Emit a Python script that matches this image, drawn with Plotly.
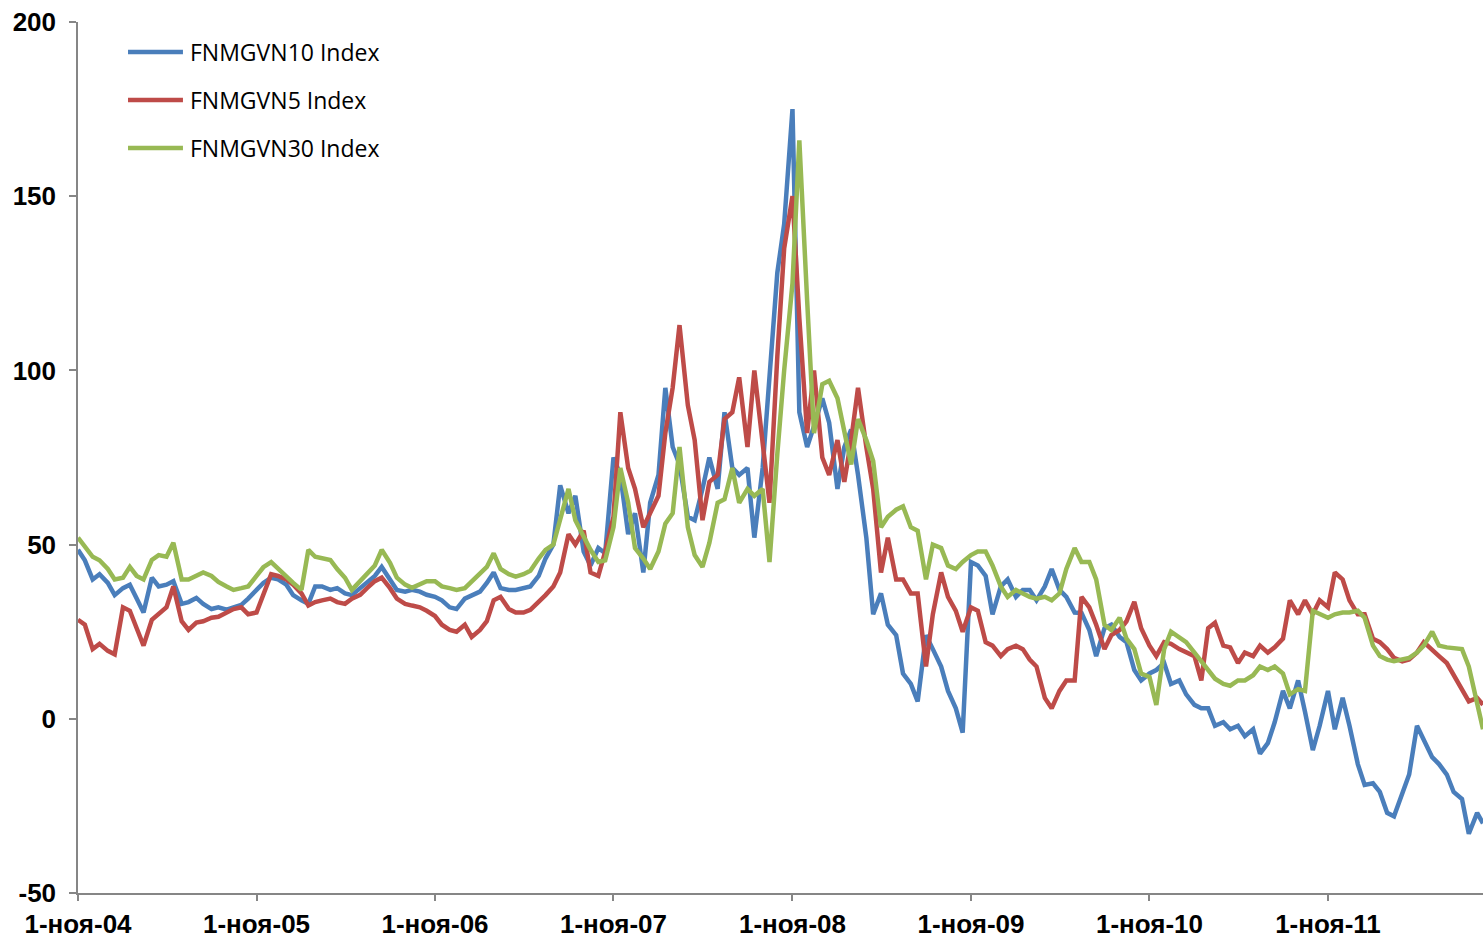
import pandas as pd
import plotly.graph_objects as go

# semi-monthly observation dates (1st and 15th), plus the final observation
dates = list(pd.date_range("2004-11-01", "2012-09-01", freq="SMS")) + [pd.Timestamp("2012-09-13")]

fnmgvn10 = [
    48.5, 45.5, 40, 41.5, 39, 35.5, 37.5, 38.5, 34.5, 30.5, 40.5, 38, 38.5, 39.5, 33, 33.5, 34.7, 33, 31.5, 32, 31.3, 32, 32.7, 34.5,
    37, 39, 40.5, 40, 38.5, 35.5, 34, 33, 38, 38, 37, 37.5, 36, 35.5, 37.5, 39, 41, 43.6, 40, 37, 36.5, 37, 36.5, 35.6,
    35, 34, 32, 31.5, 34.5, 35.5, 36.5, 39, 42, 37.5, 37, 37, 37.5, 38, 41, 46, 50, 67, 59, 64, 48, 44, 49, 47.5,
    75, 70, 53, 59, 42, 62, 70, 95, 78, 73, 58, 57, 66, 75, 66, 88, 72, 70, 72, 52, 72, 100, 128, 142,
    175, 88, 78, 84, 92, 85, 66, 78, 83, 70, 52, 30, 36, 27, 24, 13, 10, 5, 24, 20, 15, 8, 3, -4,
    45, 44, 41, 30, 38, 40, 35, 37, 37, 34, 38, 43, 37, 35, 30.5, 30.4, 25.5, 18, 26, 27, 23.5, 22, 14, 11,
    13, 14, 16, 10, 11, 7, 4, 3, 3, -2, -1, -3, -2, -5, -3, -10, -7, -1, 8, 3, 11, 2, -9, -2,
    8, -3, 6, -2, -13, -19, -18.5, -21, -27, -28, -21, -16, -2, -6, -11, -13, -16, -21, -23, -33, -27, -30,
]

fnmgvn5 = [
    28.4, 27, 20, 21.5, 19.5, 18.5, 32, 31, 26, 21, 28.4, 30, 32, 38, 28, 25.5, 27.6, 28, 29, 29.3, 30.5, 31.5, 32, 30,
    30.5, 36, 41.5, 41, 40, 38.5, 36, 32.5, 33.5, 34, 34.5, 33.5, 33, 34.5, 35.6, 37.5, 39.5, 40.5, 37.5, 34.5, 33, 32.5, 32, 31,
    29.5, 27, 25.5, 25, 27, 23.5, 25.5, 28, 34, 35, 31.5, 30.5, 30.5, 31.3, 33.5, 35.5, 38, 42, 53, 50, 54, 42, 41, 48,
    58, 88, 72, 66, 55, 59, 64, 82, 95, 113, 90, 80, 57, 68, 70, 86, 88, 98, 78, 100, 80, 62, 104, 135,
    150, 115, 82, 100, 75, 70, 80, 68, 80, 95, 78, 66, 42, 52, 40, 40, 36, 36, 15, 30, 42, 35, 31, 25,
    32, 31, 22, 21, 18, 20, 21, 20, 17, 15, 6, 3, 8, 11, 11, 35, 32, 27, 20, 24, 25.5, 28, 33.6, 26,
    21, 18, 22, 21.5, 20, 19, 18, 11, 26, 27.6, 21, 20.5, 16, 19, 18, 21, 19, 20.5, 23, 34, 30, 34, 30, 34,
    32, 42, 40, 34, 30, 30, 23, 22, 20, 17.5, 16.5, 17, 19, 22, 20, 18, 16, 12.5, 8, 5, 6, 4,
]

fnmgvn30 = [
    52, 49.5, 46.5, 45.5, 43, 40, 40.5, 43.6, 41, 40, 45.6, 47, 46.5, 50.5, 40, 40, 41, 42, 41, 39.3, 38, 37, 37.5, 38,
    41, 43.5, 45, 43, 41, 39, 37, 48.5, 46.5, 46, 45.6, 43, 40.5, 37, 39.5, 41.5, 44, 48.5, 44.8, 40.5, 38.5, 37.6, 38.5, 39.5,
    39.5, 38, 37.5, 37, 37.5, 39.5, 41.5, 43.6, 47.5, 43, 41.5, 40.8, 41.5, 42.5, 46, 48.5, 50, 57, 66, 57, 52, 48.5, 45, 45.5,
    55, 72, 62, 49, 46, 43, 48, 56, 59, 78, 55, 47, 43.6, 50.5, 62, 63, 72, 62, 66, 64, 66, 45, 76, 100,
    125, 166, 120, 82, 96, 97, 92, 83, 73, 86, 80, 74, 55, 58, 60, 61, 55, 54, 40, 50, 49, 44, 43, 45,
    47, 48, 48, 44, 38, 35, 37, 36, 35, 34.5, 35, 34, 36, 43, 49, 45, 45, 40, 27, 25.5, 29, 23, 20, 13,
    12, 4, 20, 25, 23.5, 22, 19, 16.5, 14, 11.5, 10, 9.5, 11, 11, 12.5, 15, 14, 15, 13, 7, 8.5, 8, 31, 30,
    29, 30, 30.5, 30.5, 31, 29, 21, 18, 17, 16.5, 17, 17.5, 19, 21, 25, 21, 20.5, 20.4, 20, 15, 4, -3,
]

series_names = ["FNMGVN10 Index", "FNMGVN5 Index", "FNMGVN30 Index"]
series_colors = ["#4A7EBB", "#BE4B48", "#98B954"]

tick_dates = ["2004-11-01", "2005-11-01", "2006-11-01", "2007-11-01",
              "2008-11-01", "2009-11-01", "2010-11-01", "2011-11-01"]
tick_labels = ["1-ноя-04", "1-ноя-05", "1-ноя-06", "1-ноя-07",
               "1-ноя-08", "1-ноя-09", "1-ноя-10", "1-ноя-11"]
y_ticks = [-50, 0, 50, 100, 150, 200]

assert len(dates) == len(fnmgvn10) == len(fnmgvn5) == len(fnmgvn30), (
    len(dates), len(fnmgvn10), len(fnmgvn5), len(fnmgvn30))

fig = go.Figure()
for name, vals, col in zip(series_names, [fnmgvn10, fnmgvn5, fnmgvn30], series_colors):
    fig.add_trace(go.Scatter(
        x=dates, y=vals, name=name, mode="lines",
        line=dict(color=col, width=4.5),
        showlegend=False,
    ))

# legend drawn as line samples + labels in the upper-left corner of the plot area
legend_rows_y = [0.9656, 0.9104, 0.8553]
for name, col, ly in zip(series_names, series_colors, legend_rows_y):
    fig.add_shape(type="line", xref="paper", yref="paper",
                  x0=0.0356, x1=0.0747, y0=ly, y1=ly,
                  line=dict(color=col, width=4.5))
    fig.add_annotation(xref="paper", yref="paper", x=0.0783, y=ly,
                       xanchor="left", yanchor="middle", showarrow=False,
                       text=name,
                       font=dict(family="Open Sans, Liberation Sans, sans-serif", size=23, color="#000000"))

axis_col = "#868686"
tick_font = dict(family="Liberation Sans, Arial, sans-serif", size=26, color="#000000", weight="bold")
fig.update_layout(
    width=1483, height=938,
    margin=dict(l=78, r=0, t=22, b=45),
    paper_bgcolor="white", plot_bgcolor="white",
    xaxis=dict(
        type="date",
        range=["2004-11-01", "2012-09-13"],
        tickmode="array", tickvals=tick_dates, ticktext=tick_labels,
        showgrid=False, zeroline=False,
        showline=True, linecolor=axis_col, linewidth=1.5,
        ticks="outside", ticklen=6, tickcolor=axis_col, tickwidth=1.5,
        tickfont=tick_font,
        ticklabelstandoff=1,
        ticklabeloverflow="allow",
    ),
    yaxis=dict(
        range=[-50, 200],
        tickmode="array", tickvals=y_ticks, ticktext=[str(v) for v in y_ticks],
        showgrid=False, zeroline=False,
        showline=True, linecolor=axis_col, linewidth=1.5,
        ticks="outside", ticklen=7, tickcolor=axis_col, tickwidth=1.5,
        tickfont=tick_font,
        ticklabelstandoff=8,
        ticklabeloverflow="allow",
    ),
)

fig.write_html(
    "out.html",
    config={"displayModeBar": False},
    post_script="document.body.style.margin='0';document.body.style.overflow='hidden';",
)
